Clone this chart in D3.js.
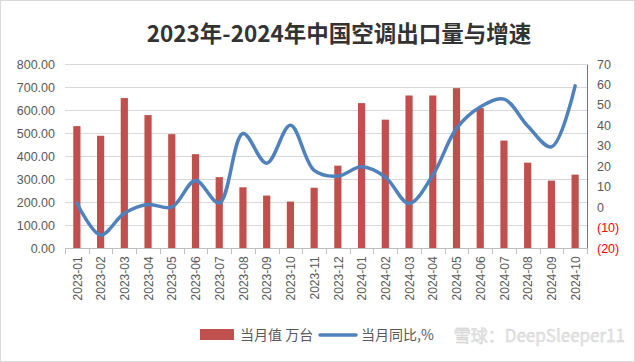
<!DOCTYPE html>
<html lang="zh">
<head>
<meta charset="UTF-8">
<title>2023年-2024年中国空调出口量与增速</title>
<script src="https://d3js.org/d3.v7.min.js"></script>
<style>
  body { margin: 0; background: #fff; }
  svg { display: block; font-family: "Liberation Sans", Arial, sans-serif; }
</style>
</head>
<body>
<script>
var months = ['2023-01','2023-02','2023-03','2023-04','2023-05','2023-06','2023-07','2023-08','2023-09','2023-10','2023-11','2023-12',
              '2024-01','2024-02','2024-03','2024-04','2024-05','2024-06','2024-07','2024-08','2024-09','2024-10'];
// 当月值 万台
var volume = [530, 488, 652, 578, 495, 408, 308, 264, 228, 202, 262, 358,
              630, 558, 663, 663, 695, 608, 467, 371, 293, 319];
// 当月同比 %
var growth = [2, -13.6, -3, 1.3, 0, 13, 2, 36, 21.5, 40, 18, 15.2,
              19.7, 14.7, 1.8, 15.6, 38.5, 49, 52.8, 39.7, 29.5, 59.3];
var leftTicks = [0, 100, 200, 300, 400, 500, 600, 700, 800];
var rightTicks = [-20, -10, 0, 10, 20, 30, 40, 50, 60, 70];

var width = 635, height = 362;
var plot = { left: 65, right: 587, top: 64, bottom: 248 };

var svg = d3.select('body').append('svg')
    .attr('width', width)
    .attr('height', height);

// outer frame
svg.append('rect')
    .attr('x', 0.5).attr('y', 0.5)
    .attr('width', width - 1).attr('height', height - 1)
    .attr('fill', '#fff').attr('stroke', '#d9d9d9');

// title
svg.append('text')
    .attr('x', 339).attr('y', 42)
    .attr('text-anchor', 'middle')
    .attr('font-family', '"Noto Sans CJK SC", sans-serif')
    .attr('font-weight', 'bold')
    .attr('font-size', 22.5)
    .attr('fill', '#333')
    .text('2023年-2024年中国空调出口量与增速');

var xCenter = d3.scalePoint()
    .domain(months)
    .range([plot.left, plot.right])
    .padding(0.5);

var yLeft = d3.scaleLinear().domain([0, 800]).range([plot.bottom, plot.top]);
var yRight = d3.scaleLinear().domain([-20, 70]).range([plot.bottom, plot.top]);

// gridlines
svg.append('g')
    .selectAll('line')
    .data(leftTicks.slice(1))
    .join('line')
    .attr('x1', plot.left).attr('x2', plot.right)
    .attr('y1', function(d) { return Math.round(yLeft(d)) + 0.5; })
    .attr('y2', function(d) { return Math.round(yLeft(d)) + 0.5; })
    .attr('stroke', '#d9d9d9');

// left axis
var leftAxis = svg.append('g')
    .attr('transform', 'translate(' + plot.left + ',0)')
    .call(d3.axisLeft(yLeft).tickValues(leftTicks).tickSize(0).tickPadding(10)
        .tickFormat(d3.format('.2f')));
leftAxis.select('.domain').remove();
leftAxis.selectAll('text')
    .attr('font-size', 12.5)
    .attr('fill', '#595959');

// right axis
var rightAxis = svg.append('g')
    .attr('transform', 'translate(' + plot.right + ',0)')
    .call(d3.axisRight(yRight).tickValues(rightTicks).tickSize(0).tickPadding(10)
        .tickFormat(function(d) { return d < 0 ? '(' + Math.abs(d) + ')' : d; }));
rightAxis.select('.domain').attr('stroke', '#4a7ebb');
rightAxis.selectAll('text')
    .attr('font-size', 12.5)
    .attr('fill', function(d) { return d < 0 ? '#ff0000' : '#595959'; });

// bottom axis
var bottomAxis = svg.append('g')
    .attr('transform', 'translate(0,' + plot.bottom + ')')
    .call(d3.axisBottom(xCenter).tickSize(0).tickPadding(8));
bottomAxis.select('.domain').attr('stroke', '#bfbfbf');
bottomAxis.selectAll('text')
    .attr('font-size', 12)
    .attr('fill', '#595959')
    .attr('transform', 'rotate(-90)')
    .attr('text-anchor', 'end')
    .attr('dx', '-0.7em')
    .attr('dy', '0.35em')
    .attr('y', 0);
// category separator ticks
var step = xCenter.step();
svg.append('g')
    .selectAll('line')
    .data(d3.range(months.length + 1))
    .join('line')
    .attr('x1', function(i) { return Math.round(plot.left + i * step) + 0.5; })
    .attr('x2', function(i) { return Math.round(plot.left + i * step) + 0.5; })
    .attr('y1', plot.bottom).attr('y2', plot.bottom + 6)
    .attr('stroke', '#bfbfbf');

// bars
svg.append('g')
    .selectAll('rect')
    .data(volume)
    .join('rect')
    .attr('x', function(d, i) { return xCenter(months[i]) - 3.6; })
    .attr('width', 7.2)
    .attr('y', function(d) { return yLeft(d); })
    .attr('height', function(d) { return yLeft(0) - yLeft(d); })
    .attr('fill', '#c0504d');

// growth line
var line = d3.line()
    .x(function(d, i) { return xCenter(months[i]); })
    .y(function(d) { return yRight(d); })
    .curve(d3.curveCatmullRom.alpha(0.5));

svg.append('path')
    .datum(growth)
    .attr('d', line)
    .attr('fill', 'none')
    .attr('stroke', '#4f81bd')
    .attr('stroke-width', 3.5)
    .attr('stroke-linecap', 'round');

// legend
var legend = svg.append('g')
    .attr('font-family', '"Noto Sans CJK SC", sans-serif')
    .attr('font-size', 14)
    .attr('fill', '#595959');
legend.append('rect')
    .attr('x', 200).attr('y', 329)
    .attr('width', 34).attr('height', 11)
    .attr('fill', '#c0504d');
legend.append('text')
    .attr('x', 240).attr('y', 340)
    .text('当月值 万台');
legend.append('line')
    .attr('x1', 320).attr('x2', 356)
    .attr('y1', 335).attr('y2', 335)
    .attr('stroke', '#4f81bd')
    .attr('stroke-width', 3.5)
    .attr('stroke-linecap', 'round');
legend.append('text')
    .attr('x', 361).attr('y', 340)
    .text('当月同比,%');

// watermark
svg.append('text')
    .attr('x', 625).attr('y', 342)
    .attr('text-anchor', 'end')
    .attr('font-family', '"Noto Sans CJK SC", sans-serif')
    .attr('font-size', 17)
    .attr('fill', '#e6e6e6')
    .attr('stroke', '#cfcfcf')
    .attr('stroke-width', 0.4)
    .text('雪球：DeepSleeper11');
</script>
</body>
</html>
